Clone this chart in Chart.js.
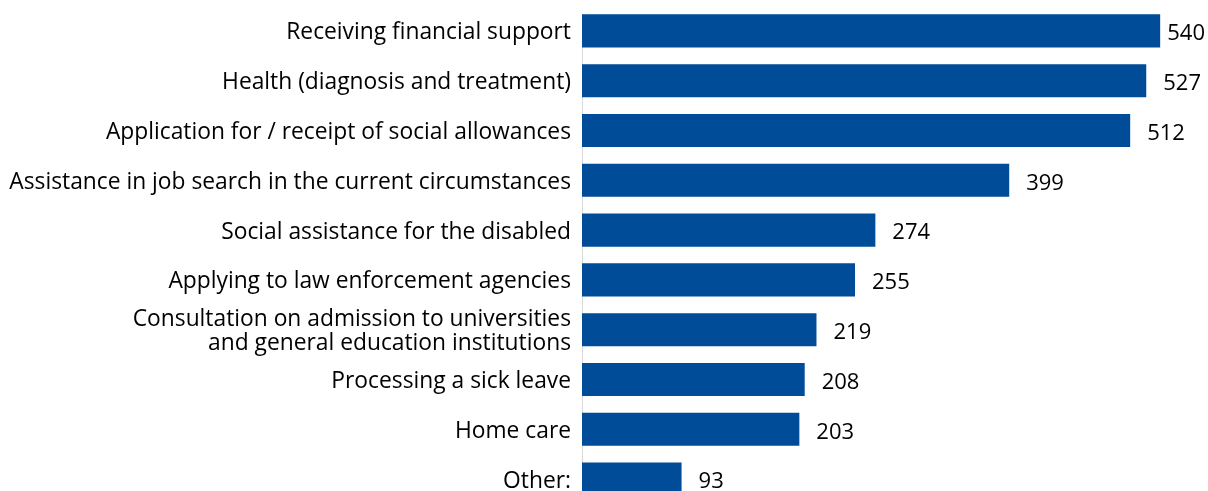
<!DOCTYPE html>
<html>
<head>
<meta charset="utf-8">
<script src="https://cdn.jsdelivr.net/npm/chart.js@4"></script>
<style>
  html, body { margin: 0; padding: 0; background: #fff; overflow: hidden; }
  #wrap { position: relative; width: 1208px; height: 506px; }
</style>
</head>
<body>
<div id="wrap"><canvas id="chart"></canvas></div>
<script>
// categories, top to bottom
const categories = [
  "Receiving financial support",
  "Health (diagnosis and treatment)",
  "Application for / receipt of social allowances",
  "Assistance in job search in the current circumstances",
  "Social assistance for the disabled",
  "Applying to law enforcement agencies",
  ["Consultation on admission to universities", "and general education institutions"],
  "Processing a sick leave",
  "Home care",
  "Other:"
];
const counts = [540, 527, 512, 399, 274, 255, 219, 208, 203, 93];

const FONT = "'Open Sans', 'Noto Sans', sans-serif";
const BAR_COLOR = "#004C99";

// prints the count right of each bar, pulled back in if it would run off the canvas
const valueLabels = {
  id: "valueLabels",
  afterDatasetsDraw(chart) {
    const ctx = chart.ctx;
    const meta = chart.getDatasetMeta(0);
    ctx.save();
    ctx.font = "22px " + FONT;
    ctx.fillStyle = "#000";
    ctx.textAlign = "left";
    ctx.textBaseline = "middle";
    meta.data.forEach((bar, i) => {
      const txt = String(counts[i]);
      const w = ctx.measureText(txt).width;
      const x = Math.min(bar.x + 17, chart.width - w - 3);
      ctx.fillText(txt, x, bar.y + 3);
    });
    ctx.restore();
  }
};

// light vertical axis line, starting a bit below the top of the plot
const axisLine = {
  id: "axisLine",
  beforeDatasetsDraw(chart) {
    const { ctx, chartArea } = chart;
    ctx.save();
    ctx.strokeStyle = "#d9d9d9";
    ctx.lineWidth = 1;
    ctx.beginPath();
    ctx.moveTo(chartArea.left + 0.5, chartArea.top + 8);
    ctx.lineTo(chartArea.left + 0.5, chartArea.bottom);
    ctx.stroke();
    ctx.restore();
  }
};

const ctx = document.getElementById("chart").getContext("2d");
new Chart(ctx, {
  type: "bar",
  data: {
    labels: categories,
    datasets: [{
      data: counts,
      backgroundColor: BAR_COLOR,
      borderWidth: 0,
      categoryPercentage: 1,
      barPercentage: 0.665
    }]
  },
  options: {
    indexAxis: "y",
    responsive: true,
    maintainAspectRatio: false,
    animation: false,
    layout: { padding: { top: 6, right: 5, bottom: 2, left: 0 } },
    plugins: {
      legend: { display: false },
      tooltip: { enabled: false }
    },
    scales: {
      x: {
        display: false,
        min: 0,
        max: 580
      },
      y: {
        grid: { display: false, drawTicks: false },
        border: { display: false },
        afterFit(scale) {
          scale.width = 582;
          scale.paddingTop = 0;
          scale.paddingBottom = 0;
        },
        ticks: {
          color: "#000",
          padding: 11,
          labelOffset: 2,
          autoSkip: false,
          font: { family: FONT, size: 22.8, lineHeight: 1.05 }
        }
      }
    }
  },
  plugins: [axisLine, valueLabels]
});
</script>
</body>
</html>
